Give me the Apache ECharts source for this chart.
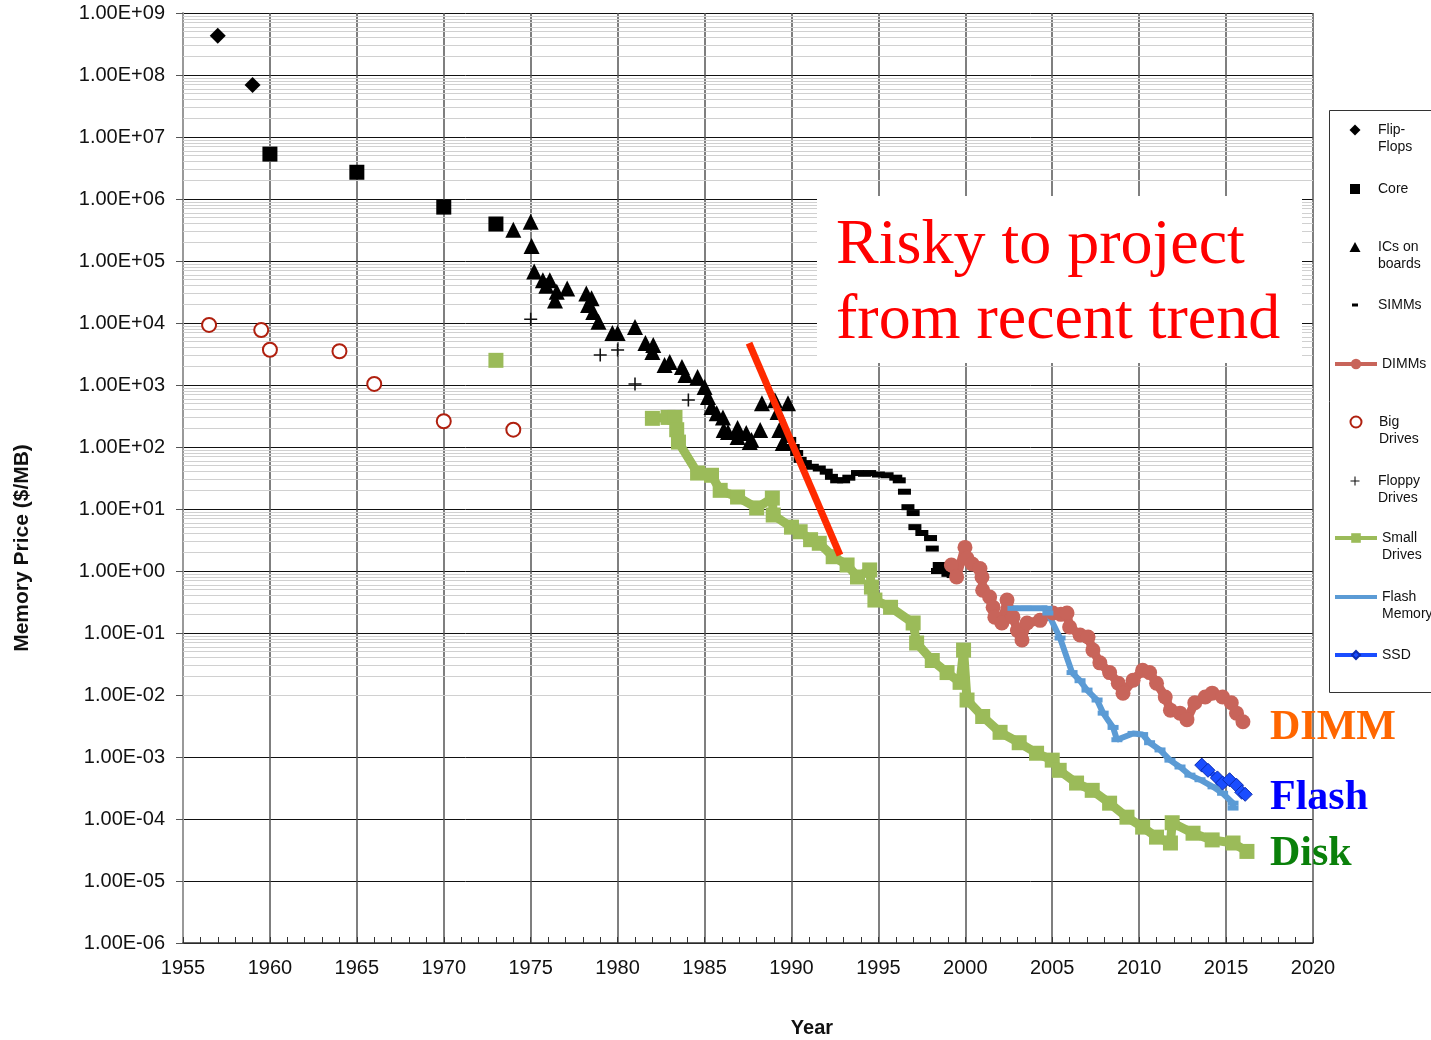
<!DOCTYPE html>
<html>
<head>
<meta charset="utf-8">
<title>Memory price</title>
<script src="https://cdn.jsdelivr.net/npm/echarts@6/dist/echarts.min.js"></script>
<style>
  html, body { margin: 0; padding: 0; background: #fff; }
  #main { width: 1431px; height: 1040px; }
</style>
</head>
<body>
<div id="main"></div>
<script>
// values: [year, $/MB]
var flipFlops = [[1957.0, 4.3e8], [1959.0, 6.9e7]];
var core = [[1960.0, 5.3e6], [1965.0, 2.7e6], [1970.0, 7.4e5], [1973.0, 3.95e5]];
var icsOnBoards = [
  [1974.0, 3.2e5], [1975.0, 4.3e5], [1975.05, 1.75e5], [1975.2, 6.8e4], [1975.7, 4.9e4],
  [1975.9, 4.0e4], [1976.1, 4.9e4], [1976.4, 2.3e4], [1976.5, 3.2e4], [1977.1, 3.6e4],
  [1978.2, 3.0e4], [1978.3, 1.95e4], [1978.5, 2.5e4], [1978.6, 1.5e4], [1978.9, 1.05e4],
  [1979.7, 6900], [1980.0, 6900], [1981.0, 8600], [1981.6, 4750], [1982.0, 3400],
  [1982.05, 4400], [1982.7, 2100], [1983.0, 2350], [1983.7, 1950], [1983.9, 1450],
  [1984.6, 1340], [1985.0, 930], [1985.2, 640], [1985.4, 440], [1985.7, 350],
  [1986.06, 300], [1986.1, 188], [1986.35, 174], [1986.9, 202], [1986.9, 145],
  [1987.4, 168], [1987.6, 120], [1987.7, 130], [1988.2, 188], [1988.3, 510],
  [1989.05, 570], [1989.2, 367], [1989.3, 188], [1989.5, 116], [1989.8, 510]
];
var simms = [
  [1989.9, 130], [1990.1, 100], [1990.3, 80], [1990.5, 62], [1990.8, 55], [1991.2, 48],
  [1991.6, 45], [1992.0, 40], [1992.3, 33], [1992.6, 29], [1993.0, 29], [1993.3, 32],
  [1993.8, 38], [1994.2, 37], [1994.5, 38], [1995.0, 36], [1995.5, 35], [1996.0, 32],
  [1996.2, 29], [1996.5, 19], [1996.7, 10.7], [1997.0, 8.6], [1997.1, 5.1], [1997.5, 4.1],
  [1998.0, 3.4], [1998.1, 2.3], [1998.4, 1.0], [1998.5, 1.25], [1998.7, 1.25],
  [1998.95, 1.04], [1999.0, 0.9], [1999.3, 0.86]
];
var dimms = [
  [1999.2, 1.25], [1999.5, 0.8], [1999.98, 2.4], [2000.1, 1.6], [2000.4, 1.3], [2000.84, 1.1],
  [2000.96, 0.8], [2001.0, 0.49], [2001.4, 0.38], [2001.6, 0.26], [2001.7, 0.18],
  [2002.1, 0.145], [2002.4, 0.34], [2002.74, 0.18], [2003.0, 0.11], [2003.26, 0.077],
  [2003.55, 0.145], [2004.3, 0.16], [2005.04, 0.21], [2005.5, 0.2], [2005.85, 0.21],
  [2006.0, 0.125], [2006.6, 0.093], [2007.06, 0.086], [2007.34, 0.053], [2007.74, 0.033],
  [2008.3, 0.023], [2008.8, 0.0155], [2009.07, 0.0107], [2009.65, 0.0173], [2010.2, 0.025],
  [2010.6, 0.023], [2011.0, 0.0155], [2011.5, 0.0093], [2011.8, 0.0057], [2012.35, 0.0051],
  [2012.75, 0.004], [2013.2, 0.0075], [2013.8, 0.0093], [2014.2, 0.0107], [2014.8, 0.0093],
  [2015.3, 0.0075], [2015.6, 0.0051], [2015.97, 0.0037]
];
var bigDrives = [[1956.5, 9300], [1959.5, 7700], [1960.0, 3700], [1964.0, 3500], [1966.0, 1040], [1970.0, 260], [1974.0, 190]];
var floppyDrives = [[1975.0, 11500], [1979.0, 3050], [1980.0, 3670], [1981.0, 1040], [1984.07, 573]];
var smallDrivesEarly = [[1973.0, 2500]];
var smallDrives = [
  [1982.0, 290], [1982.9, 300], [1983.3, 300], [1983.4, 190], [1983.5, 120], [1984.6, 38],
  [1985.4, 35], [1985.9, 20], [1986.9, 15.6], [1988.0, 10.4], [1988.9, 15], [1988.95, 8],
  [1990.0, 5.1], [1990.5, 4.3], [1991.1, 3.2], [1991.6, 2.8], [1992.4, 1.7], [1993.2, 1.25],
  [1993.8, 0.8], [1994.5, 1.04], [1994.6, 0.55], [1994.8, 0.34], [1995.7, 0.26], [1997.0, 0.145],
  [1997.2, 0.069], [1998.1, 0.036], [1998.95, 0.023], [1999.7, 0.016], [1999.9, 0.053],
  [2000.1, 0.0083], [2001.0, 0.0045], [2002.0, 0.0025], [2003.1, 0.0017], [2004.1, 0.00115],
  [2005.0, 0.00089], [2005.4, 0.00061], [2006.4, 0.00038], [2007.3, 0.00029], [2008.3, 0.00018],
  [2009.3, 0.000107], [2010.2, 0.000074], [2011.0, 0.000051], [2011.8, 0.000041], [2011.9, 0.000087],
  [2013.1, 0.000059], [2014.2, 0.000046], [2015.4, 0.000041], [2016.2, 0.00003]
];
var flashMemory = [
  [2002.74, 0.25], [2003.5, 0.25], [2004.7, 0.25], [2004.75, 0.21], [2005.45, 0.083],
  [2006.14, 0.023], [2006.6, 0.017], [2007.0, 0.012], [2007.58, 0.0083], [2007.93, 0.0051],
  [2008.5, 0.003], [2008.72, 0.0019], [2009.65, 0.0024], [2010.2, 0.0023], [2010.6, 0.0017],
  [2011.2, 0.0013], [2011.77, 0.00089], [2012.35, 0.00069], [2012.92, 0.00051], [2013.5, 0.00043],
  [2014.25, 0.00033], [2014.8, 0.00026], [2015.4, 0.00018], [2015.4, 0.00015]
];
var ssd = [[2013.6, 0.00074], [2013.96, 0.00061], [2014.5, 0.00046], [2014.8, 0.00038], [2015.2, 0.00043], [2015.6, 0.00035], [2015.9, 0.00027], [2016.1, 0.00025]];
// the red "recent trend" stroke
var trend = [[1987.56, 4750], [1992.79, 1.8]];

var yearTicks = [1955, 2020];
var priceRange = [1e-6, 1e9];
var minorSteps = [2, 3, 4, 5, 6, 7, 8, 9];

var sans = "'Liberation Sans', Arial, sans-serif";
var serif = "'Liberation Serif', 'Times New Roman', serif";
var plus = 'path://M4.4,0h1.2v4.4h4.4v1.2h-4.4v4.4h-1.2v-4.4h-4.4v-1.2h4.4z';

// light log gridlines 2..9 inside every decade
var minorLines = [];
for (var e = -6; e < 9; e++) {
  minorSteps.forEach(function (m) { minorLines.push({ yAxis: m * Math.pow(10, e) }); });
}

function sciLabel(v) {
  var p = Math.round(Math.log10(v));
  var a = Math.abs(p);
  return '1.00E' + (p < 0 ? '-' : '+') + (a < 10 ? '0' + a : '' + a);
}

// one legend per entry so each sits where the original has it
var legendItems = [
  { name: 'Flip-Flops', text: 'Flip-\nFlops', y: 130, w: 11, h: 11 },
  { name: 'Core', text: 'Core', y: 189, w: 10, h: 10 },
  { name: 'ICs on boards', text: 'ICs on\nboards', y: 247, w: 11, h: 10 },
  { name: 'SIMMs', text: 'SIMMs', y: 305, w: 6, h: 3 },
  { name: 'DIMMs', text: 'DIMMs', y: 364, w: 42, h: 13, line: true },
  { name: 'Big Drives', text: 'Big\nDrives', y: 422, w: 11, h: 11 },
  { name: 'Floppy Drives', text: 'Floppy\nDrives', y: 481, w: 9, h: 9 },
  { name: 'Small Drives', text: 'Small\nDrives', y: 538, w: 42, h: 12, line: true },
  { name: 'Flash Memory', text: 'Flash\nMemory', y: 597, w: 42, h: 4, line: true },
  { name: 'SSD', text: 'SSD', y: 655, w: 42, h: 10, line: true }
];
var legends = legendItems.map(function (it) {
  var two = it.text.indexOf('\n') >= 0;
  // an empty first line keeps the icon level with the first text line
  var txt = two ? '\n' + it.text : it.text;
  var H = two ? 51 : 17;
  var left = it.line ? 1333 : 1355 - it.w / 2;
  var padLeft = it.line ? 0 : 18 - it.w / 2;
  var lg = {
    orient: 'vertical',
    left: left,
    top: it.y - H / 2,
    padding: 0,
    itemWidth: it.w,
    itemHeight: it.h,
    selectedMode: false,
    data: [it.name],
    formatter: function () { return txt; },
    textStyle: { fontSize: 14, lineHeight: 17, color: '#111', fontFamily: sans, padding: [0, 0, 0, padLeft] }
  };
  if (it.line) lg.lineStyle = { width: 4 };
  return lg;
});

function lineSeries(name, data, color, width, symbol, size, extra) {
  var s = {
    name: name, type: 'line', data: data,
    symbol: symbol, symbolSize: size, showSymbol: true,
    lineStyle: { color: color, width: width },
    itemStyle: { color: color },
    emphasis: { disabled: true }
  };
  return Object.assign(s, extra || {});
}
function dots(name, data, symbol, size, color, extra) {
  var s = {
    name: name, type: 'scatter', data: data,
    symbol: symbol, symbolSize: size,
    itemStyle: { color: color, opacity: 1 },
    emphasis: { disabled: true }
  };
  return Object.assign(s, extra || {});
}

var chart = echarts.init(document.getElementById('main'));
chart.setOption({
  animation: false,
  backgroundColor: '#fff',
  grid: { left: 183, right: 118, top: 13, bottom: 97, outerBoundsMode: 'none' },
  legend: legends,
  xAxis: {
    type: 'value', min: yearTicks[0], max: yearTicks[1], interval: 5,
    axisLine: { onZero: false, lineStyle: { color: '#333', width: 1.5 } },
    axisTick: { show: true, inside: true, length: 6, lineStyle: { color: '#333' } },
    minorTick: { show: true, splitNumber: 5, length: 6, lineStyle: { color: '#333' } },
    splitLine: { show: true, lineStyle: { color: '#555', width: 1.5 } },
    axisLabel: { fontSize: 20, color: '#111', margin: 15, fontFamily: sans, formatter: function (v) { return String(v); } },
    name: 'Year', nameLocation: 'middle', nameGap: 75,
    nameTextStyle: { fontSize: 20, fontWeight: 'bold', color: '#111', fontFamily: sans, padding: [0, 0, 0, 128] }
  },
  yAxis: {
    type: 'log', logBase: 10, min: priceRange[0], max: priceRange[1], interval: 1,
    axisLine: { show: true, lineStyle: { color: '#999', width: 2 } },
    axisTick: { show: true, length: 7, lineStyle: { color: '#555' } },
    splitLine: { show: true, lineStyle: { color: '#111', width: 1 } },
    axisLabel: { fontSize: 20, color: '#111', margin: 18, fontFamily: sans, formatter: sciLabel },
    name: 'Memory Price ($/MB)', nameLocation: 'middle', nameGap: 150, nameRotate: 90,
    nameTextStyle: { fontSize: 21, fontWeight: 'bold', color: '#111', fontFamily: sans, padding: [0, 140, 0, 0] }
  },
  series: [
    {
      name: 'minor grid', type: 'line', data: [], silent: true, z: 1,
      markLine: {
        silent: true, z: 1, symbol: ['none', 'none'], label: { show: false }, animation: false,
        lineStyle: { color: '#d0d0d0', width: 1.2, type: 'solid' },
        data: minorLines
      }
    },
    lineSeries('Small Drives', smallDrivesEarly, '#9bbb59', 9, 'rect', 15),
    lineSeries('Small Drives', smallDrives, '#9bbb59', 9, 'rect', 15),
    lineSeries('DIMMs', dimms, '#c8645a', 9, 'circle', 15),
    lineSeries('Flash Memory', flashMemory, '#5b9bd5', 6, 'rect', [11, 5]),
    lineSeries('SSD', ssd, '#1a4dff', 6, 'diamond', 14, { itemStyle: { color: '#1a4dff', borderColor: '#0a2bb0', borderWidth: 1 } }),
    dots('Flip-Flops', flipFlops, 'diamond', 16, '#000'),
    dots('Core', core, 'rect', 15, '#000'),
    dots('ICs on boards', icsOnBoards, 'triangle', 16, '#000'),
    dots('SIMMs', simms, 'rect', [13, 6], '#000'),
    dots('Big Drives', bigDrives, 'emptyCircle', 14, '#b0200f', { itemStyle: { color: '#b0200f', borderWidth: 1.6, opacity: 1 } }),
    dots('Floppy Drives', floppyDrives, plus, 13, '#111'),
    lineSeries('trend', trend, '#ff2a00', 7, 'none', 0, { z: 5 })
  ],
  graphic: [
    { type: 'rect', left: 1327, top: 108, z: 100, silent: true,
      shape: { width: 130, height: 582 }, style: { fill: 'none', stroke: '#333', lineWidth: 1 } },
    { type: 'rect', left: 817, top: 196, z: 100, silent: true,
      shape: { width: 485, height: 167 }, style: { fill: '#fff' } },
    { type: 'text', z: 101, x: 836, y: 246, silent: true,
      style: { text: 'Risky to project', font: '64px ' + serif, fill: '#ff0000', verticalAlign: 'middle' } },
    { type: 'text', z: 101, x: 836, y: 321, silent: true,
      style: { text: 'from recent trend', font: '64px ' + serif, fill: '#ff0000', verticalAlign: 'middle' } },
    { type: 'text', z: 101, x: 1270, y: 728, silent: true,
      style: { text: 'DIMM', font: 'bold 42px ' + serif, fill: '#ff6600', verticalAlign: 'middle' } },
    { type: 'text', z: 101, x: 1270, y: 798, silent: true,
      style: { text: 'Flash', font: 'bold 42px ' + serif, fill: '#0000ff', verticalAlign: 'middle' } },
    { type: 'text', z: 101, x: 1270, y: 854, silent: true,
      style: { text: 'Disk', font: 'bold 42px ' + serif, fill: '#0a800a', verticalAlign: 'middle' } }
  ]
});
</script>
</body>
</html>
